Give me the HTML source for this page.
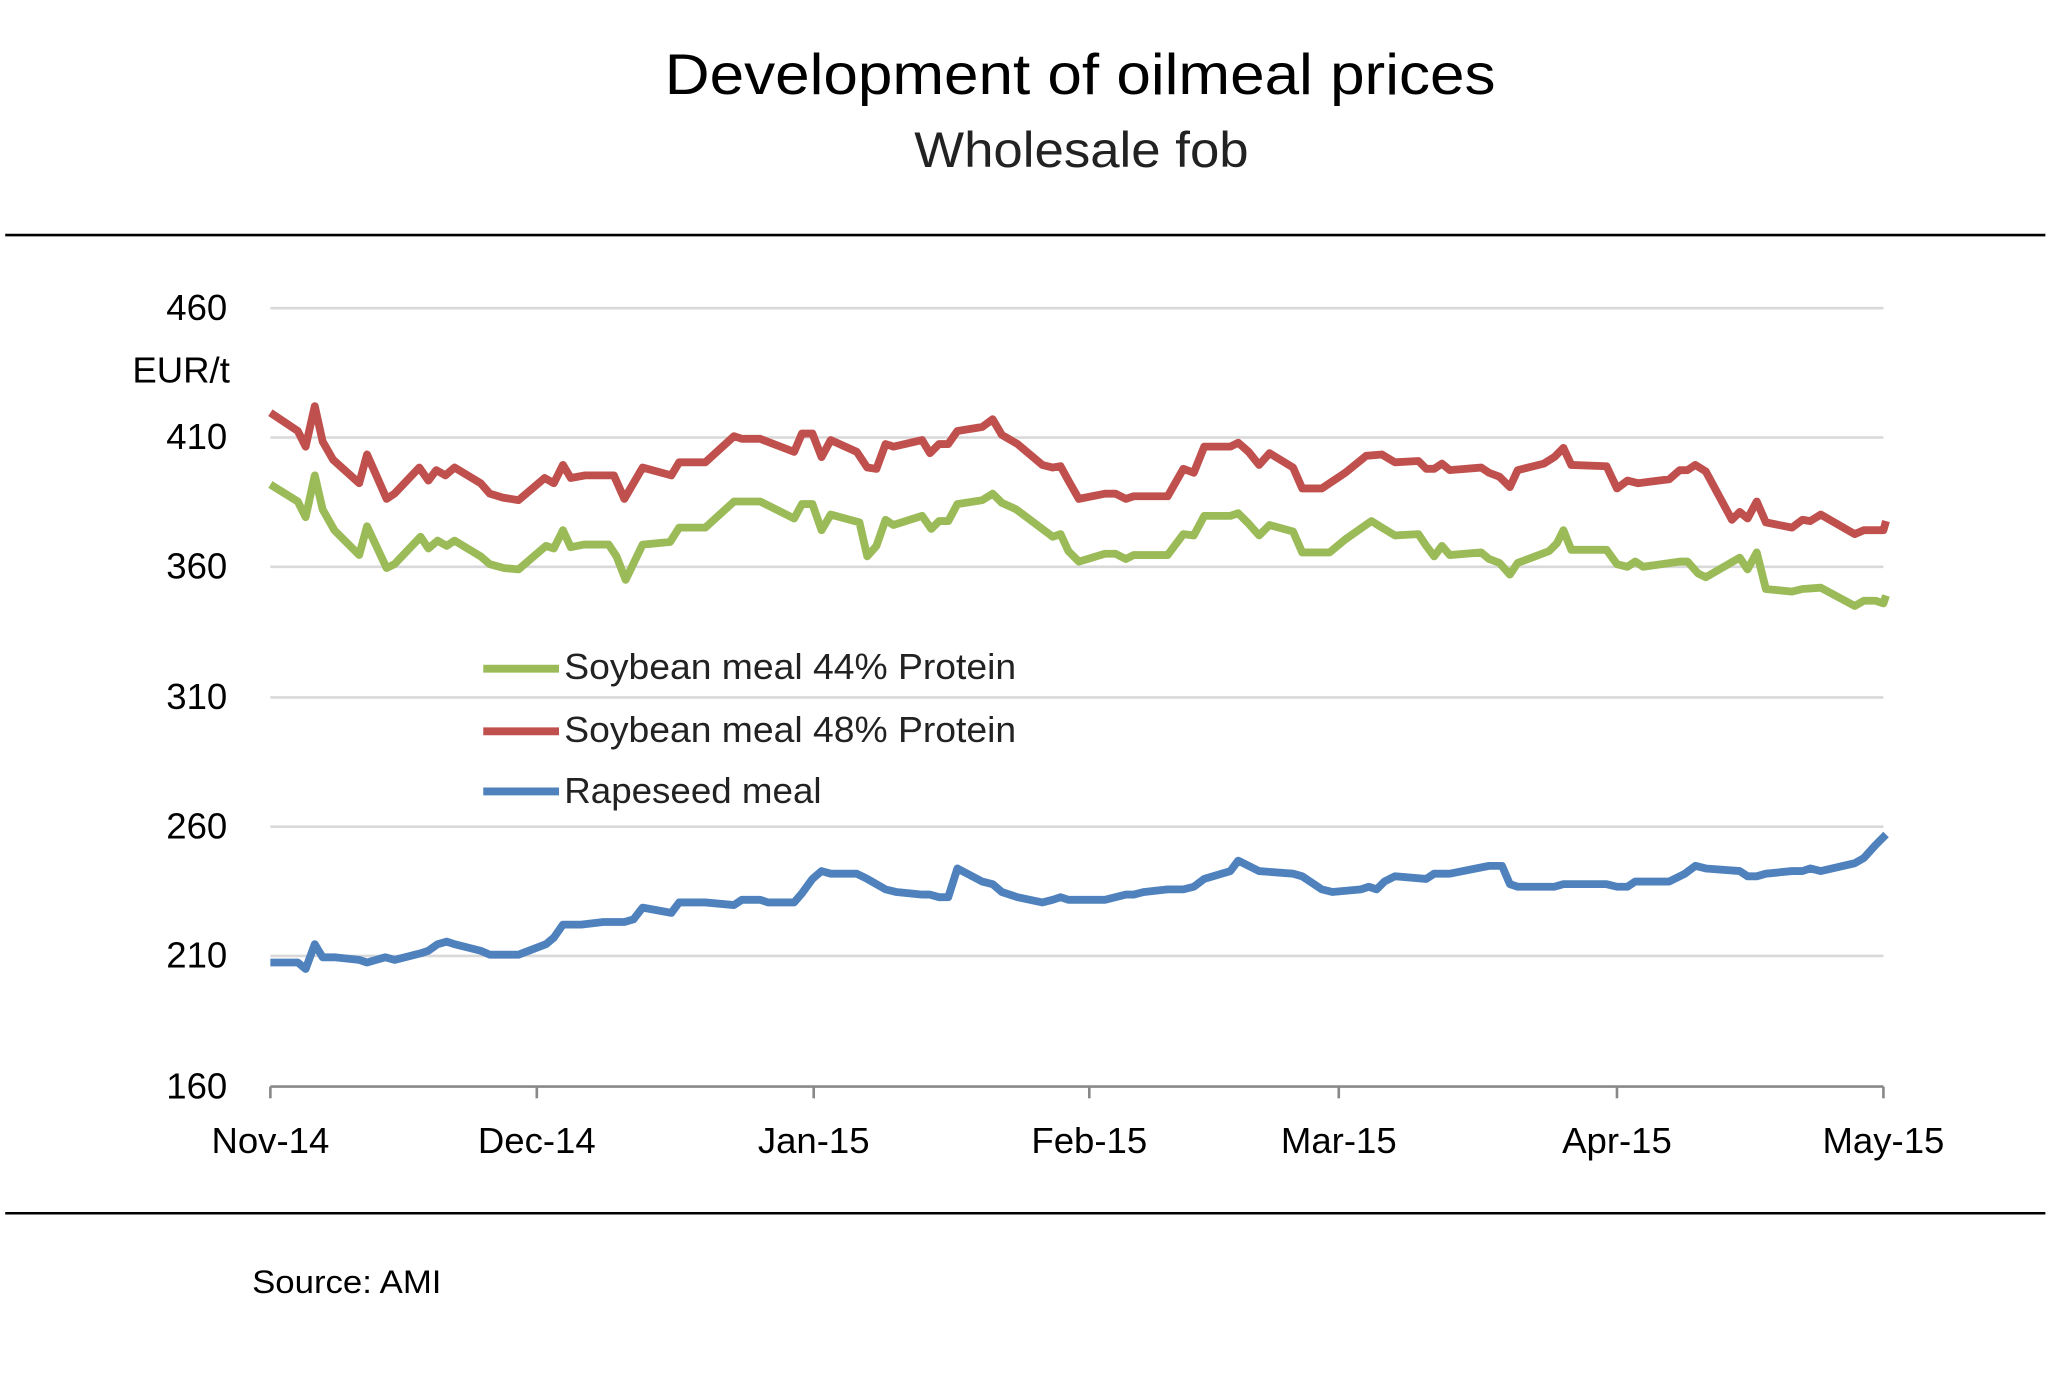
<!DOCTYPE html>
<html><head><meta charset="utf-8"><style>html,body{margin:0;padding:0;background:#fff}svg{display:block}</style></head><body>
<svg width="2048" height="1400" viewBox="0 0 1568 1072" preserveAspectRatio="none" xmlns="http://www.w3.org/2000/svg" font-family="Liberation Sans, sans-serif">
<rect width="1568" height="1072" fill="#fff"/>
<text x="509" y="72" font-size="44" textLength="636" lengthAdjust="spacingAndGlyphs" fill="#000">Development of oilmeal prices</text>
<text x="700" y="128" font-size="38" textLength="256" lengthAdjust="spacingAndGlyphs" fill="#222">Wholesale fob</text>
<line x1="4" y1="180" x2="1566" y2="180" stroke="#000" stroke-width="2"/>
<line x1="4" y1="929" x2="1566" y2="929" stroke="#000" stroke-width="2"/>
<g stroke="#d9d9d9" stroke-width="2">
<line x1="207" y1="236" x2="1442" y2="236"/><line x1="207" y1="335" x2="1442" y2="335"/><line x1="207" y1="434" x2="1442" y2="434"/><line x1="207" y1="534" x2="1442" y2="534"/><line x1="207" y1="633" x2="1442" y2="633"/><line x1="207" y1="732" x2="1442" y2="732"/>
</g>
<g stroke="#888" stroke-width="2"><line x1="207" y1="832" x2="1442" y2="832"/>
<line x1="207" y1="832" x2="207" y2="841"/><line x1="411" y1="832" x2="411" y2="841"/><line x1="623" y1="832" x2="623" y2="841"/><line x1="834" y1="832" x2="834" y2="841"/><line x1="1025" y1="832" x2="1025" y2="841"/><line x1="1238" y1="832" x2="1238" y2="841"/><line x1="1442" y1="832" x2="1442" y2="841"/></g>
<g font-size="28" fill="#000" text-anchor="end">
<text x="174" y="245">460</text><text x="174" y="344">410</text><text x="174" y="443">360</text><text x="174" y="543">310</text><text x="174" y="642">260</text><text x="174" y="741">210</text><text x="174" y="841">160</text>
<text x="176" y="293">EUR/t</text></g>
<g font-size="28" fill="#000" text-anchor="middle">
<text x="207" y="883">Nov-14</text><text x="411" y="883">Dec-14</text><text x="623" y="883">Jan-15</text><text x="834" y="883">Feb-15</text><text x="1025" y="883">Mar-15</text><text x="1238" y="883">Apr-15</text><text x="1442" y="883">May-15</text></g>
<g fill="none" stroke-width="6" stroke-linejoin="round">
<polyline stroke="#c0504d" points="207,316 228,330 234,342 241,311 247,338 255,352 275,370 281,348 289,366 296,382 302,378 321,358 328,368 334,360 341,364 348,358 368,370 375,378 385,381 397,383 417,366 424,370 431,356 437,366 448,364 470,364 478,382 492,358 514,364 520,354 540,354 562,334 568,336 582,336 608,346 614,332 622,332 629,350 636,337 656,346 664,358 671,359 678,340 684,342 706,337 712,347 719,340 726,340 733,330 752,327 760,321 767,333 779,340 798,356 806,358 812,357 818,368 826,382 846,378 854,378 862,382 868,380 894,380 906,359 914,362 922,342 942,342 948,339 956,346 964,356 972,347 990,358 997,374 1012,374 1030,362 1046,349 1058,348 1068,354 1086,353 1092,359 1098,359 1104,355 1110,360 1134,358 1140,362 1148,365 1156,373 1162,360 1182,355 1190,350 1197,343 1203,356 1230,357 1238,374 1246,368 1254,370 1278,367 1286,360 1292,360 1298,356 1306,361 1326,398 1332,392 1338,397 1345,384 1352,400 1372,404 1380,398 1386,399 1394,394 1420,409 1427,406 1442,406 1444,399"/>
<polyline stroke="#9bbb59" points="207,371 228,384 234,396 241,364 247,390 256,406 275,425 281,403 289,420 296,435 302,432 322,411 328,420 335,414 342,418 348,414 368,426 375,432 386,435 397,436 418,418 424,420 431,406 437,419 447,417 466,417 472,426 479,444 492,417 513,415 520,404 540,404 562,384 582,384 608,397 614,386 622,386 629,406 636,394 658,400 664,426 671,418 678,398 684,402 706,395 713,405 719,399 726,399 733,386 752,383 760,378 767,385 778,390 806,411 812,409 818,422 826,430 846,424 854,424 862,428 868,425 894,425 906,409 914,410 922,395 942,395 948,393 956,401 964,410 972,402 990,407 997,423 1018,423 1030,413 1050,399 1058,404 1068,410 1086,409 1092,418 1098,426 1104,418 1110,425 1134,423 1140,428 1148,431 1156,440 1162,431 1186,422 1192,416 1197,406 1203,421 1230,421 1238,432 1246,434 1252,430 1258,434 1286,430 1292,430 1300,439 1306,442 1332,427 1338,436 1345,423 1352,451 1372,453 1380,451 1394,450 1420,464 1427,460 1436,460 1442,462 1444,456"/>
<polyline stroke="#4f81bd" points="207,737 228,737 234,742 241,723 247,733 256,733 275,735 281,737 295,733 302,735 322,730 328,728 335,723 342,721 348,723 360,726 368,728 375,731 397,731 418,723 424,718 431,708 445,708 462,706 478,706 485,704 492,695 514,699 520,691 540,691 562,693 568,689 582,689 588,691 608,691 614,684 622,673 629,667 636,669 656,669 664,673 678,681 686,683 706,685 712,685 719,687 726,687 733,665 752,675 760,677 767,683 779,687 798,691 806,689 812,687 818,689 846,689 862,685 868,685 876,683 894,681 906,681 914,679 922,673 942,667 948,659 956,663 964,667 990,669 997,671 1006,677 1012,681 1020,683 1042,681 1048,679 1054,681 1060,675 1068,671 1092,673 1098,669 1110,669 1140,663 1150,663 1156,677 1162,679 1190,679 1197,677 1230,677 1238,679 1246,679 1252,675 1278,675 1290,669 1298,663 1306,665 1332,667 1338,671 1345,671 1352,669 1372,667 1380,667 1386,665 1394,667 1420,661 1427,657 1436,647 1444,639"/>
<line x1="370" y1="512" x2="428" y2="512" stroke="#9bbb59"/>
<line x1="370" y1="560" x2="428" y2="560" stroke="#c0504d"/>
<line x1="370" y1="606" x2="428" y2="606" stroke="#4f81bd"/>
</g>
<g font-size="28" fill="#222">
<text x="432" y="520" textLength="346" lengthAdjust="spacingAndGlyphs">Soybean meal 44%  Protein</text>
<text x="432" y="568" textLength="346" lengthAdjust="spacingAndGlyphs">Soybean meal 48%  Protein</text>
<text x="432" y="615" textLength="197" lengthAdjust="spacingAndGlyphs">Rapeseed meal</text>
</g>
<text x="193" y="990" font-size="25" fill="#000" textLength="145" lengthAdjust="spacingAndGlyphs">Source: AMI</text>
</svg>
</body></html>
